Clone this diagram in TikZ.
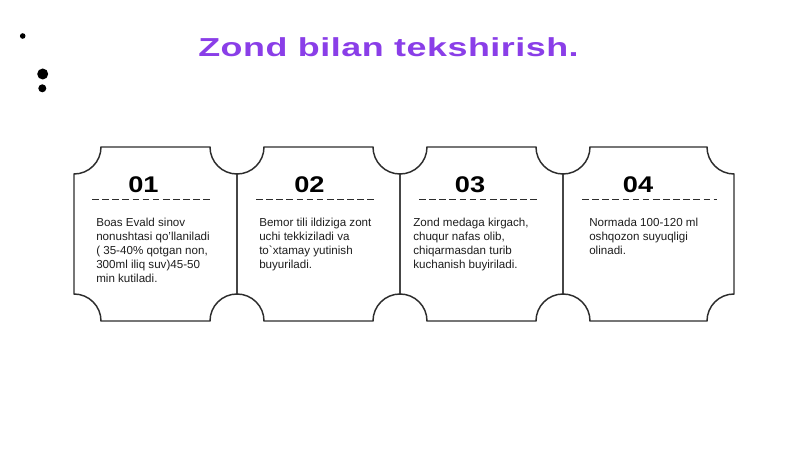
\documentclass[tikz,border=0pt]{standalone}
\usepackage{fontspec}
\setmainfont{Liberation Sans}
\definecolor{titlepurple}{RGB}{138,62,232}
\definecolor{cardline}{RGB}{45,45,45}
\definecolor{bodytext}{RGB}{30,30,30}
\begin{document}
\begin{tikzpicture}[x=0.75pt,y=-0.75pt,
  cardedge/.style={draw=cardline,line width=1.1pt},
  sepline/.style={draw=cardline,line width=0.75pt,dash pattern=on 5pt off 2.6pt},
  numlabel/.style={anchor=base,inner sep=0pt,font=\fontsize{17pt}{19pt}\selectfont\bfseries,text=black},
  bodylabel/.style={anchor=north west,inner sep=0pt,align=left,text=bodytext,font=\fontsize{8.7pt}{10.5pt}\selectfont},
  dotmark/.style={fill=black}]
\useasboundingbox[fill=white] (0,0) rectangle (800,449);
% decorative dots
\fill[dotmark] (22.7,36) circle (2.8);
\fill[dotmark] (42.7,74) circle (5.5);
\fill[dotmark] (42.3,88.3) circle (4);
% title
\node[anchor=base,inner sep=0pt,text=titlepurple] (title) at (388.5,56.3)
  {\scalebox{1.38}[1]{\fontsize{19.5pt}{22pt}\selectfont\bfseries\addfontfeature{LetterSpace=1.4}Zond bilan tekshirish.}};
% cards
\foreach \L/\R in {74/237,237/400,400/563,563/734}{
  \draw[cardedge] (\L,147+27) arc (90:0:27) -- (\R-27,147) arc (180:90:27)
    -- (\R,321-27) arc (270:180:27) -- (\L+27,321) arc (0:-90:27) -- cycle;
}
% numbers
\node[numlabel] (n1) at (143.5,192.5) {\scalebox{1.2}[1]{01}};
\node[numlabel] (n2) at (309.5,192.5) {\scalebox{1.2}[1]{02}};
\node[numlabel] (n3) at (470,192.5) {\scalebox{1.2}[1]{03}};
\node[numlabel] (n4) at (638,192.5) {\scalebox{1.2}[1]{04}};
% separators
\coordinate (s1a) at (92,200); \coordinate (s1b) at (212,200);
\coordinate (s2a) at (256,200); \coordinate (s2b) at (376,200);
\coordinate (s3a) at (419,200); \coordinate (s3b) at (537,200);
\coordinate (s4a) at (582,200); \coordinate (s4b) at (717,200);
\draw[sepline] (s1a) -- (s1b);
\draw[sepline] (s2a) -- (s2b);
\draw[sepline] (s3a) -- (s3b);
\draw[sepline] (s4a) -- (s4b);
% body texts
\node[bodylabel] (t1) at (96,218) {Boas Evald sinov\\nonushtasi qo'llaniladi\\( 35-40\% qotgan non,\\300ml iliq suv)45-50\\min kutiladi.};
\node[bodylabel] (t2) at (259,218) {Bemor tili ildiziga zont\\uchi tekkiziladi va\\to\textasciigrave xtamay yutinish\\buyuriladi.};
\node[bodylabel] (t3) at (413,218) {Zond medaga kirgach,\\chuqur nafas olib,\\chiqarmasdan turib\\kuchanish buyiriladi.};
\node[bodylabel] (t4) at (589,218) {Normada 100-120 ml\\oshqozon suyuqligi\\olinadi.};
\end{tikzpicture}
\end{document}
